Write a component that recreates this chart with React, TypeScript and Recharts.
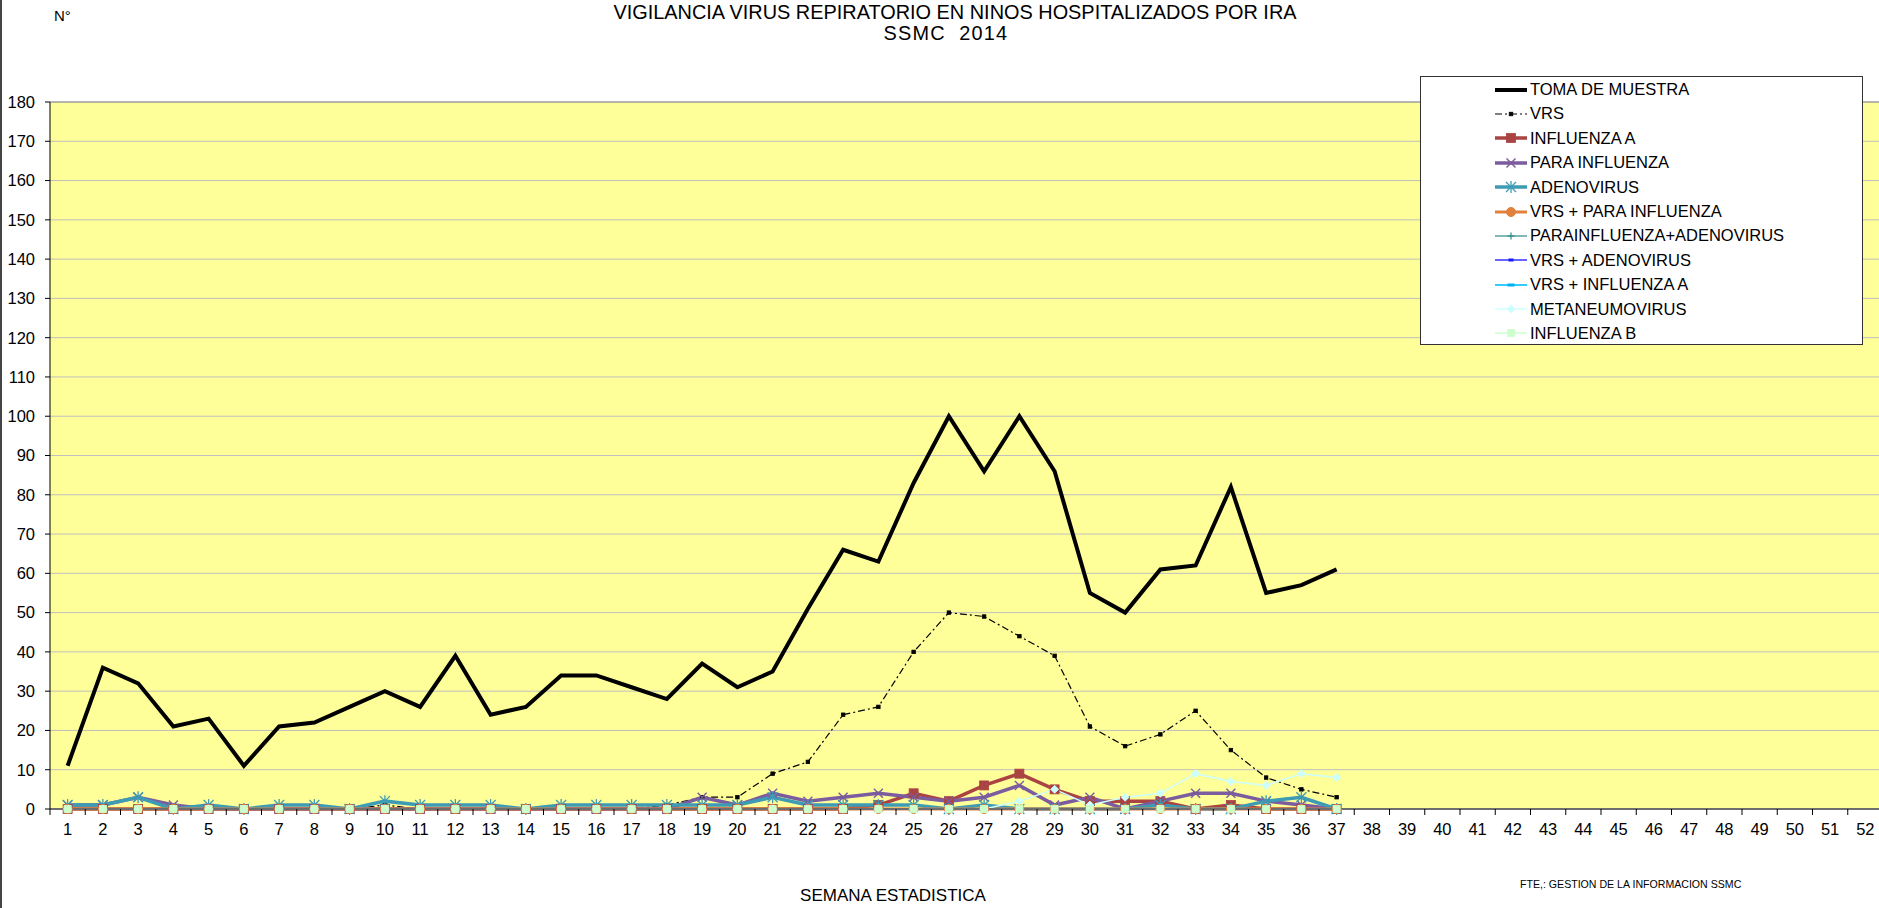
import {
  CartesianGrid,
  Legend,
  Line,
  LineChart,
  ReferenceLine,
  XAxis,
  YAxis,
} from "recharts";

// Semana estadística 1–52 (datos hasta la semana 37)
const weeks = Array.from({ length: 52 }, (_, i) => i + 1);
const yTicks = [0, 10, 20, 30, 40, 50, 60, 70, 80, 90, 100, 110, 120, 130, 140, 150, 160, 170, 180];

const tomaMuestra = [11, 36, 32, 21, 23, 11, 21, 22, 26, 30, 26, 39, 24, 26, 34, 34, 31, 28, 37, 31, 35, 51, 66, 63, 83, 100, 86, 100, 86, 55, 50, 61, 62, 82, 55, 57, 61];
const vrs = [0, 0, 0, 0, 0, 0, 0, 0, 0, 1, 0, 0, 0, 0, 0, 0, 0, 1, 3, 3, 9, 12, 24, 26, 40, 50, 49, 44, 39, 21, 16, 19, 25, 15, 8, 5, 3];
const influenzaA = [0, 0, 0, 0, 0, 0, 0, 0, 0, 0, 0, 0, 0, 0, 0, 0, 0, 0, 0, 0, 0, 0, 0, 1, 4, 2, 6, 9, 5, 2, 2, 2, 0, 1, 0, 0, 0];
const paraInfluenza = [1, 1, 3, 1, 0, 0, 0, 0, 0, 0, 0, 0, 0, 0, 0, 0, 0, 0, 3, 1, 4, 2, 3, 4, 3, 2, 3, 6, 1, 3, 0, 2, 4, 4, 2, 1, 0];
const adenovirus = [1, 1, 3, 0, 1, 0, 1, 1, 0, 2, 1, 1, 1, 0, 1, 1, 1, 1, 1, 1, 3, 1, 1, 1, 1, 0, 1, 0, 0, 0, 0, 1, 0, 0, 2, 3, 0];
const vrsParaInfluenza = [0, 0, 0, 0, 0, 0, 0, 0, 0, 0, 0, 0, 0, 0, 0, 0, 0, 0, 0, 0, 0, 0, 0, 0, 0, 0, 0, 0, 0, 0, 0, 0, 0, 0, 0, 0, 0];
const paraAdenovirus = [0, 0, 0, 0, 0, 0, 0, 0, 0, 0, 0, 0, 0, 0, 0, 0, 0, 0, 0, 0, 0, 0, 0, 0, 0, 0, 0, 0, 0, 0, 0, 0, 0, 0, 0, 0, 0];
const vrsAdenovirus = [0, 0, 0, 0, 0, 0, 0, 0, 0, 0, 0, 0, 0, 0, 0, 0, 0, 0, 0, 0, 0, 0, 0, 0, 0, 0, 0, 0, 0, 0, 0, 0, 0, 0, 0, 0, 0];
const vrsInfluenzaA = [0, 0, 0, 0, 0, 0, 0, 0, 0, 0, 0, 0, 0, 0, 0, 0, 0, 0, 0, 0, 0, 0, 0, 0, 0, 0, 0, 0, 0, 0, 0, 0, 0, 0, 0, 0, 0];
const metaneumovirus = [0, 0, 0, 0, 0, 0, 0, 0, 0, 0, 0, 0, 0, 0, 0, 0, 0, 0, 0, 0, 0, 0, 0, 0, 0, 0, 0, 2, 5, 1, 3, 4, 9, 7, 6, 9, 8];
const influenzaB = [0, 0, 0, 0, 0, 0, 0, 0, 0, 0, 0, 0, 0, 0, 0, 0, 0, 0, 0, 0, 0, 0, 0, 0, 0, 0, 0, 0, 0, 0, 0, 0, 0, 0, 0, 0, 0];

type Shape = "none" | "square" | "x" | "asterisk" | "circle" | "plus" | "dash" | "diamond";

const series = [
  { key: "toma", name: "TOMA DE MUESTRA", values: tomaMuestra, color: "#000000", width: 4, dash: undefined, shape: "none" as Shape, size: 0, fill: "#000" },
  { key: "vrs", name: "VRS", values: vrs, color: "#000000", width: 1.2, dash: "7 3 2 3", shape: "square" as Shape, size: 3.5, fill: "#000" },
  { key: "infA", name: "INFLUENZA A", values: influenzaA, color: "#A94443", width: 3.5, dash: undefined, shape: "square" as Shape, size: 9, fill: "#A94443" },
  { key: "para", name: "PARA INFLUENZA", values: paraInfluenza, color: "#7B5C9E", width: 3.5, dash: undefined, shape: "x" as Shape, size: 9, fill: "none" },
  { key: "adeno", name: "ADENOVIRUS", values: adenovirus, color: "#3E9BB4", width: 3.5, dash: undefined, shape: "asterisk" as Shape, size: 10, fill: "none" },
  { key: "vrsPara", name: "VRS + PARA INFLUENZA", values: vrsParaInfluenza, color: "#E2813D", width: 3, dash: undefined, shape: "circle" as Shape, size: 9, fill: "#E2813D" },
  { key: "paraAdeno", name: "PARAINFLUENZA+ADENOVIRUS", values: paraAdenovirus, color: "#2E8B8B", width: 1.2, dash: undefined, shape: "plus" as Shape, size: 7, fill: "none" },
  { key: "vrsAdeno", name: "VRS + ADENOVIRUS", values: vrsAdenovirus, color: "#3333FF", width: 1.5, dash: undefined, shape: "dash" as Shape, size: 5, fill: "#1a1aff" },
  { key: "vrsInfA", name: "VRS + INFLUENZA A", values: vrsInfluenzaA, color: "#33CCFF", width: 2, dash: undefined, shape: "dash" as Shape, size: 7, fill: "#00B0F0" },
  { key: "meta", name: "METANEUMOVIRUS", values: metaneumovirus, color: "#CCFFFF", width: 1.5, dash: undefined, shape: "diamond" as Shape, size: 8, fill: "#CCFFFF" },
  { key: "infB", name: "INFLUENZA B", values: influenzaB, color: "#CCFFCC", width: 1.5, dash: undefined, shape: "square" as Shape, size: 7, fill: "#CCFFCC" },
];

const data = weeks.map((w, i) => {
  const row: Record<string, number | null> = { week: w };
  series.forEach((s) => {
    row[s.key] = i < s.values.length ? s.values[i] : null;
  });
  return row;
});

const CHART_W = 1883;
const CHART_H = 908;
const Y_AXIS_W = 50;
const BAND = (CHART_W - Y_AXIS_W) / weeks.length;
const FONT = "'Liberation Sans', Arial, sans-serif";

function Marker({ shape, cx, cy, size, color, fill }: { shape: Shape; cx: number; cy: number; size: number; color: string; fill: string }) {
  const h = size / 2;
  switch (shape) {
    case "square":
      return <rect x={cx - h} y={cy - h} width={size} height={size} fill={fill} stroke={color} strokeWidth={0.8} />;
    case "x":
      return (
        <g stroke={color} strokeWidth={1.4}>
          <line x1={cx - h} y1={cy - h} x2={cx + h} y2={cy + h} />
          <line x1={cx - h} y1={cy + h} x2={cx + h} y2={cy - h} />
        </g>
      );
    case "asterisk":
      return (
        <g stroke={color} strokeWidth={1.3}>
          <line x1={cx - h} y1={cy - h} x2={cx + h} y2={cy + h} />
          <line x1={cx - h} y1={cy + h} x2={cx + h} y2={cy - h} />
          <line x1={cx} y1={cy - h - 1} x2={cx} y2={cy + h + 1} />
        </g>
      );
    case "circle":
      return <circle cx={cx} cy={cy} r={h} fill={fill} stroke={color} strokeWidth={1} />;
    case "plus":
      return (
        <g stroke={color} strokeWidth={1.2}>
          <line x1={cx - h} y1={cy} x2={cx + h} y2={cy} />
          <line x1={cx} y1={cy - h} x2={cx} y2={cy + h} />
        </g>
      );
    case "dash":
      return <rect x={cx - h} y={cy - 1.5} width={size} height={3} fill={fill} />;
    case "diamond":
      return <polygon points={`${cx},${cy - h} ${cx + h},${cy} ${cx},${cy + h} ${cx - h},${cy}`} fill={fill} stroke={color} strokeWidth={0.8} />;
    default:
      return null;
  }
}

const WeekTick = ({ x, y, payload, index }: any) => (
  <g>
    {index === 0 && <line x1={x - BAND / 2} x2={x - BAND / 2} y1={y} y2={y + 6} stroke="#000" />}
    <line x1={x + BAND / 2} x2={x + BAND / 2} y1={y} y2={y + 6} stroke="#000" />
    <text x={x} y={y + 14} dy="0.71em" textAnchor="middle" fontSize={16.5} fontFamily={FONT} fill="#000">
      {payload.value}
    </text>
  </g>
);

const LegendBox = () => (
  <div
    style={{
      width: 443,
      height: 269,
      boxSizing: "border-box",
      border: "1px solid #333",
      background: "#fff",
      paddingTop: 0.4,
      fontFamily: FONT,
    }}
  >
    {series.map((s) => (
      <div key={s.key} style={{ display: "flex", alignItems: "center", height: 24.4 }}>
        <svg width={34} height={16} style={{ marginLeft: 73, overflow: "visible" }}>
          <line x1={1} x2={33} y1={8} y2={8} stroke={s.color} strokeWidth={s.width} strokeDasharray={s.dash} />
          <Marker shape={s.shape} cx={17} cy={8} size={s.size} color={s.color} fill={s.fill} />
        </svg>
        <span style={{ marginLeft: 2, fontSize: 16.5, color: "#000", whiteSpace: "nowrap" }}>{s.name}</span>
      </div>
    ))}
  </div>
);

export default function App() {
  return (
    <div
      style={{
        position: "absolute",
        left: 0,
        top: 0,
        width: 1879,
        height: 908,
        overflow: "hidden",
        background: "#fff",
        fontFamily: FONT,
      }}
    >
      <div style={{ position: "absolute", left: 0, top: 0, width: 2, height: 908, background: "#444" }} />
      <div style={{ position: "absolute", left: 0, width: 1910, top: 2, textAlign: "center", fontSize: 19.9, color: "#000", lineHeight: "20px" }}>
        VIGILANCIA VIRUS REPIRATORIO EN NINOS HOSPITALIZADOS POR IRA
      </div>
      <div style={{ position: "absolute", left: 0, width: 1892, top: 23, textAlign: "center", fontSize: 19.9, color: "#000", lineHeight: "20px", whiteSpace: "pre", letterSpacing: 1.2 }}>
        {"SSMC  2014"}
      </div>
      <div style={{ position: "absolute", left: 54, top: 7, fontSize: 15, color: "#000" }}>N°</div>
      <div style={{ position: "absolute", left: 0, width: 1786, top: 886, textAlign: "center", fontSize: 17, color: "#000" }}>
        SEMANA ESTADISTICA
      </div>
      <div style={{ position: "absolute", left: 1520, top: 878, fontSize: 10.6, color: "#000", whiteSpace: "nowrap" }}>
        FTE,: GESTION DE LA INFORMACION SSMC
      </div>

      <LineChart width={CHART_W} height={CHART_H} data={data} margin={{ top: 102, right: 0, left: 0, bottom: 0 }}>
        <CartesianGrid vertical={false} stroke="#BFBFBF" fill="#FFFF99" />
        <XAxis
          dataKey="week"
          interval={0}
          height={CHART_H - 809}
          padding={{ left: BAND / 2, right: BAND / 2 }}
          tickLine={false}
          tickSize={0}
          tickMargin={0}
          axisLine={{ stroke: "#6E6E6E", strokeWidth: 2 }}
          tick={<WeekTick />}
        />
        <YAxis
          width={Y_AXIS_W}
          domain={[0, 180]}
          ticks={yTicks}
          interval={0}
          tickSize={5}
          tickMargin={10}
          axisLine={{ stroke: "#000" }}
          tickLine={{ stroke: "#000" }}
          tick={{ fontSize: 16.5, fill: "#000", fontFamily: FONT }}
        />
        <ReferenceLine y={180} stroke="#8C8C8C" />
        <Legend
          layout="vertical"
          align="center"
          verticalAlign="middle"
          wrapperStyle={{ left: 1420, top: 76, width: 443 }}
          content={() => <LegendBox />}
        />
        {series.map((s) => (
          <Line
            key={s.key}
            type="linear"
            dataKey={s.key}
            name={s.name}
            stroke={s.color}
            strokeWidth={s.width}
            strokeDasharray={s.dash}
            isAnimationActive={false}
            activeDot={false}
            dot={
              s.shape === "none"
                ? false
                : (p: any) => {
                    if (p.cx == null || p.cy == null || p.payload?.[s.key] == null) return <g key={`${s.key}-${p.index}`} />;
                    return (
                      <g key={`${s.key}-${p.index}`}>
                        <Marker shape={s.shape} cx={p.cx} cy={p.cy} size={s.size} color={s.color} fill={s.fill} />
                      </g>
                    );
                  }
            }
          />
        ))}
      </LineChart>
    </div>
  );
}
